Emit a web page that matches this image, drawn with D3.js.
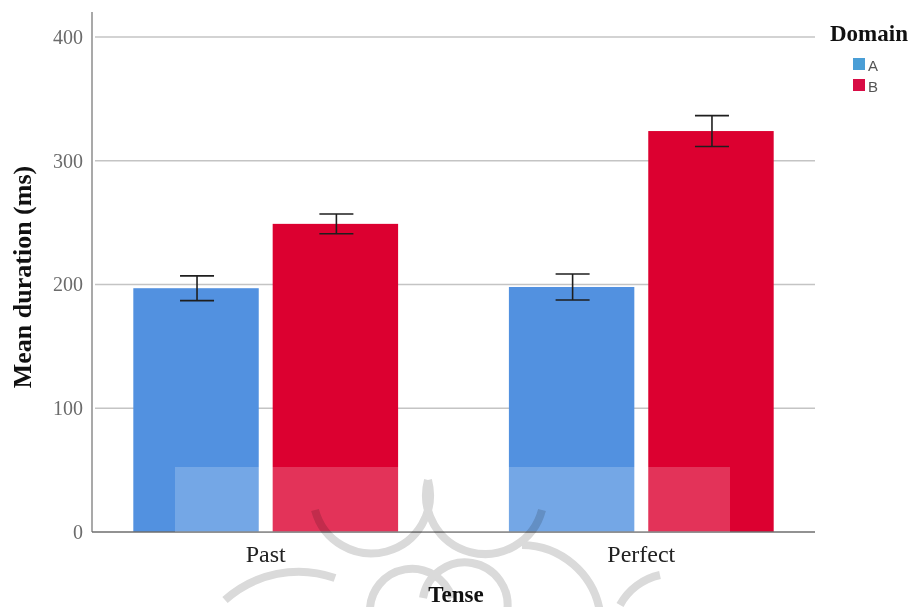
<!DOCTYPE html>
<html>
<head>
<meta charset="utf-8">
<script src="https://cdn.jsdelivr.net/npm/d3@7/dist/d3.min.js"></script>
<style>
  html, body { margin: 0; padding: 0; background: #fff; }
  svg { display: block; }
</style>
</head>
<body>
<svg id="chart" width="913" height="607"></svg>
<script>
// Mean duration by tense and domain, with error bars
const tenses = ["Past", "Perfect"];
const domains = ["A", "B"];
const meanA = [197, 198];
const meanB = [249, 324];
const errA = [10, 10.5];
const errB = [8, 12.5];
const yTicks = [0, 100, 200, 300, 400];

const colors = { A: "#5291e0", B: "#dc0030" };
const legendColors = { A: "#4a9ed6", B: "#d80c45" };

const rows = [];
tenses.forEach((t, i) => {
  rows.push({ tense: t, domain: "A", mean: meanA[i], err: errA[i] });
  rows.push({ tense: t, domain: "B", mean: meanB[i], err: errB[i] });
});

const svg = d3.select("#chart");
const plotLeft = 92, plotRight = 815, plotTop = 12, plotBottom = 532;
const serif = "Liberation Serif, 'Times New Roman', serif";

const x = d3.scaleBand().domain(tenses).range([plotLeft, plotRight]).paddingInner(0.295).paddingOuter(0.11);
const xi = d3.scaleBand().domain(domains).range([0, x.bandwidth()]).paddingInner(0.1);
const y = d3.scaleLinear().domain([0, 400]).range([plotBottom, 37]);

// gridlines
svg.append("g")
  .selectAll("line")
  .data(yTicks.filter(d => d > 0))
  .join("line")
  .attr("x1", plotLeft + 3).attr("x2", plotRight)
  .attr("y1", d => y(d)).attr("y2", d => y(d))
  .attr("stroke", "#c4c4c4").attr("stroke-width", 1.5);

// y axis
const yAxis = svg.append("g")
  .attr("transform", `translate(${plotLeft},0)`)
  .call(d3.axisLeft(y).tickValues(yTicks).tickSize(0).tickPadding(9));
yAxis.select(".domain").remove();
yAxis.selectAll("text")
  .attr("font-family", serif)
  .attr("font-size", 20)
  .attr("fill", "#6b6b6b");
svg.append("line")
  .attr("x1", plotLeft).attr("x2", plotLeft).attr("y1", plotTop).attr("y2", plotBottom)
  .attr("stroke", "#8c8c8c").attr("stroke-width", 1.5);

// bars
svg.append("g")
  .selectAll("rect")
  .data(rows)
  .join("rect")
  .attr("x", d => x(d.tense) + xi(d.domain))
  .attr("width", xi.bandwidth())
  .attr("y", d => y(d.mean))
  .attr("height", d => y(0) - y(d.mean))
  .attr("fill", d => colors[d.domain]);

// x axis baseline
svg.append("line")
  .attr("x1", plotLeft).attr("x2", plotRight).attr("y1", plotBottom).attr("y2", plotBottom)
  .attr("stroke", "#6e6e6e").attr("stroke-width", 1.5);

// error bars
const eb = svg.append("g").attr("stroke", "#1e1e1e").attr("stroke-width", 1.6);
rows.forEach(d => {
  const cx = x(d.tense) + xi(d.domain) + xi.bandwidth() / 2 + 1;
  const hi = y(d.mean + d.err), lo = y(d.mean - d.err);
  eb.append("line").attr("x1", cx).attr("x2", cx).attr("y1", hi).attr("y2", lo);
  eb.append("line").attr("x1", cx - 17).attr("x2", cx + 17).attr("y1", hi).attr("y2", hi);
  eb.append("line").attr("x1", cx - 17).attr("x2", cx + 17).attr("y1", lo).attr("y2", lo);
});

// category labels
svg.append("g")
  .selectAll("text")
  .data(tenses)
  .join("text")
  .attr("x", d => x(d) + x.bandwidth() / 2)
  .attr("y", 562)
  .attr("text-anchor", "middle")
  .attr("font-family", serif)
  .attr("font-size", 24)
  .attr("fill", "#222")
  .text(d => d);

// axis titles
svg.append("text")
  .attr("x", 456).attr("y", 602)
  .attr("text-anchor", "middle")
  .attr("font-family", serif)
  .attr("font-weight", "bold")
  .attr("font-size", 23)
  .attr("fill", "#111")
  .text("Tense");
svg.append("text")
  .attr("transform", "translate(31,277) rotate(-90)")
  .attr("text-anchor", "middle")
  .attr("font-family", serif)
  .attr("font-weight", "bold")
  .attr("font-size", 26)
  .attr("fill", "#111")
  .text("Mean duration (ms)");

// legend
const lg = svg.append("g");
lg.append("text")
  .attr("x", 830).attr("y", 41)
  .attr("font-family", serif)
  .attr("font-weight", "bold")
  .attr("font-size", 23)
  .attr("fill", "#111")
  .text("Domain");
domains.forEach((d, i) => {
  lg.append("rect")
    .attr("x", 853).attr("y", 58 + i * 21)
    .attr("width", 12).attr("height", 12)
    .attr("fill", legendColors[d]);
  lg.append("text")
    .attr("x", 868).attr("y", 71 + i * 21)
    .attr("font-family", "Liberation Sans, Arial, sans-serif")
    .attr("font-size", 15)
    .attr("fill", "#555")
    .text(d);
});

// translucent overlay band and ornament near the foot of the plot
svg.append("rect")
  .attr("x", 175).attr("y", 467).attr("width", 555).attr("height", plotBottom - 467)
  .attr("fill", "#fff").attr("opacity", 0.2);

const orn = svg.append("g")
  .attr("fill", "none")
  .attr("stroke", "#dadada")
  .attr("stroke-width", 8)
  .style("mix-blend-mode", "multiply");
const arcs = [
  "M 315 510 A 58 58 0 1 0 428 480",
  "M 428 480 A 58 58 0 1 0 542 510",
  "M 370 612 A 42 42 0 0 1 452 598",
  "M 423 598 A 42 42 0 0 1 507 612",
  "M 225 600 A 110 110 0 0 1 335 578",
  "M 522 545 A 80 80 0 0 1 600 612",
  "M 620 605 A 60 60 0 0 1 660 575"
];
orn.selectAll("path").data(arcs).join("path").attr("d", d => d);
</script>
</body>
</html>
